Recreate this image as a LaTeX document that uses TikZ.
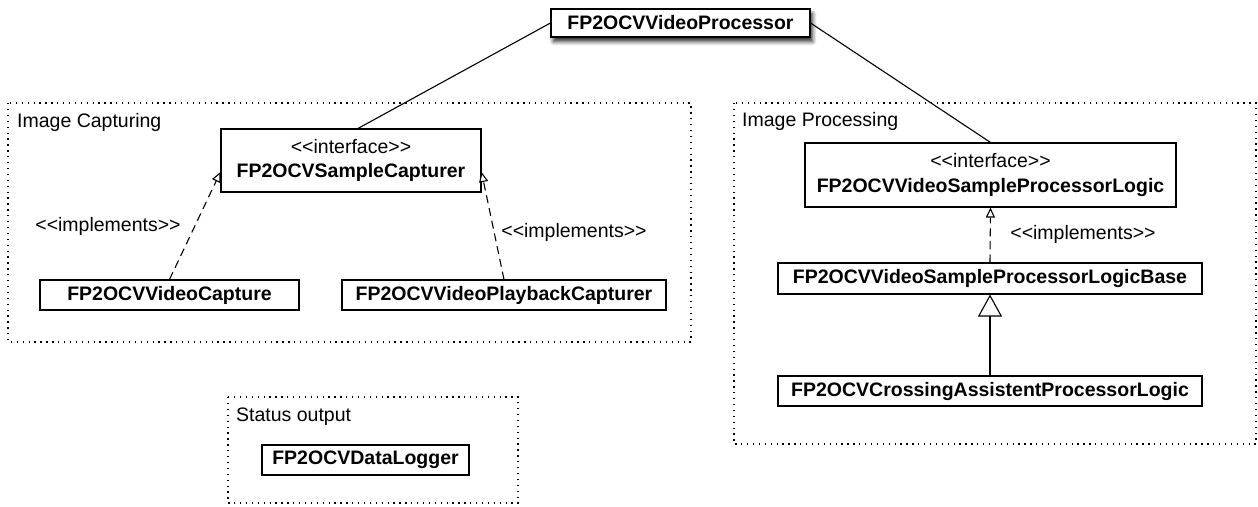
\documentclass[tikz,border=0pt]{standalone}
\usepackage{fontspec}
\setmainfont{Liberation Sans}
\usetikzlibrary{arrows.meta,calc,shadows.blur}
\begin{document}
\begin{tikzpicture}[x=1pt,y=-1pt,
  cls/.style={draw,line width=1.1pt,fill=white,inner sep=0pt,align=center,
    font=\fontsize{19.5}{24.5}\selectfont\bfseries},
  frame/.style={line width=1.3pt,dash pattern=on 1.3pt off 4.6pt},
  flabel/.style={anchor=west,inner sep=0pt,font=\fontsize{19.5}{24}\selectfont},
  rlabel/.style={inner sep=0pt,font=\fontsize{19.5}{24}\selectfont},
  realize/.style={line width=1.1pt,dash pattern=on 8pt off 5pt,
    -{Triangle[open,length=10pt,width=9pt,fill=white]}},
  inherit/.style={line width=1.1pt,-{Triangle[open,length=22pt,width=24pt,fill=white]}},
  assoc/.style={line width=1.1pt}]
\useasboundingbox (0,0) rectangle (1258,506);
% frames
\draw[frame] (8,103) rectangle (691,342);
\draw[frame] (734,103) rectangle (1256,444);
\draw[frame] (228,397) rectangle (518,503);
\node[flabel] (lcap) at (17,122) {Image Capturing};
\node[flabel] (lproc) at (742,121) {Image Processing};
\node[flabel] (lstat) at (236,417) {Status output};
% classes
\node[cls,minimum width=259pt,minimum height=28pt,
  blur shadow={shadow xshift=2.5pt,shadow yshift=-4.5pt,shadow blur steps=6,
    shadow blur radius=4pt,shadow opacity=85}]
  (top) at (680.5,23) {FP2OCVVideoProcessor};
\node[cls,minimum width=260pt,minimum height=63pt] (capt) at (351,160.5)
  {{\mdseries <{}<interface>{}>}\\FP2OCVSampleCapturer};
\node[cls,minimum width=259pt,minimum height=30pt] (vcap) at (169.5,295) {FP2OCVVideoCapture};
\node[cls,minimum width=324pt,minimum height=30pt] (vplay) at (504,295) {FP2OCVVideoPlaybackCapturer};
\node[cls,minimum width=371pt,minimum height=64pt] (iface) at (990.5,175)
  {{\mdseries <{}<interface>{}>}\\FP2OCVVideoSampleProcessorLogic};
\node[cls,minimum width=424pt,minimum height=31pt] (base) at (990,278.5) {FP2OCVVideoSampleProcessorLogicBase};
\node[cls,minimum width=424pt,minimum height=30pt] (cross) at (990,391) {FP2OCVCrossingAssistentProcessorLogic};
\node[cls,minimum width=207pt,minimum height=30pt] (logger) at (365.5,460) {FP2OCVDataLogger};
% connectors
\draw[assoc] (top.west) -- ($(capt.north)+(7,0)$);
\draw[assoc] (top.east) -- (iface.north);
\draw[realize] (vcap.north) -- ($(capt.south west)!0.32!(capt.north west)$);
\draw[realize] (vplay.north) -- ($(capt.south east)!0.32!(capt.north east)$);
\draw[realize] (base.north) -- (iface.south);
\draw[inherit] (cross.north) -- (base.south);
% labels
\node[rlabel] (impl1) at (108,226) {<{}<implements>{}>};
\node[rlabel] (impl2) at (574,232) {<{}<implements>{}>};
\node[rlabel] (impl3) at (1083,234) {<{}<implements>{}>};
\end{tikzpicture}
\end{document}
